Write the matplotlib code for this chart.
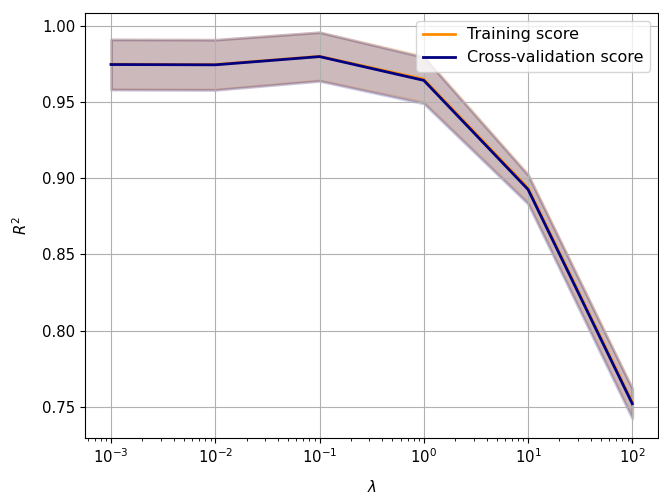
import numpy as np
import matplotlib
matplotlib.use("Agg")
import matplotlib.pyplot as plt

# regularisation strengths and scores
param_range = [1e-3, 1e-2, 1e-1, 1e0, 1e1, 1e2]
train_scores_mean = [0.9748, 0.9746, 0.9800, 0.9650, 0.8935, 0.7530]
train_scores_std = [0.0163, 0.0163, 0.0158, 0.0150, 0.0092, 0.0092]
test_scores_mean = [0.9746, 0.9744, 0.9798, 0.9642, 0.8926, 0.7520]
test_scores_std = [0.0165, 0.0165, 0.0160, 0.0152, 0.0095, 0.0098]

train_mean = np.array(train_scores_mean)
train_std = np.array(train_scores_std)
test_mean = np.array(test_scores_mean)
test_std = np.array(test_scores_std)

fig = plt.figure(figsize=(6.59, 4.96), dpi=100)
ax = fig.add_axes([0.129, 0.117, 0.87, 0.857])

lw = 2
ax.semilogx(param_range, train_mean, label="Training score",
            color="darkorange", lw=lw)
ax.fill_between(param_range, train_mean - train_std, train_mean + train_std,
                alpha=0.2, color="darkorange", lw=lw)
ax.semilogx(param_range, test_mean, label="Cross-validation score",
            color="navy", lw=lw)
ax.fill_between(param_range, test_mean - test_std, test_mean + test_std,
                alpha=0.2, color="navy", lw=lw)

ax.tick_params(labelsize=10.7)
ax.set_xlabel(r"$\lambda$", fontsize=10.7, labelpad=9)
ax.set_ylabel(r"$R^2$", fontsize=10.7, labelpad=9)
ax.legend(loc="upper right", fontsize=11.5)
ax.grid(True)

fig.savefig("out.png", dpi=100)
